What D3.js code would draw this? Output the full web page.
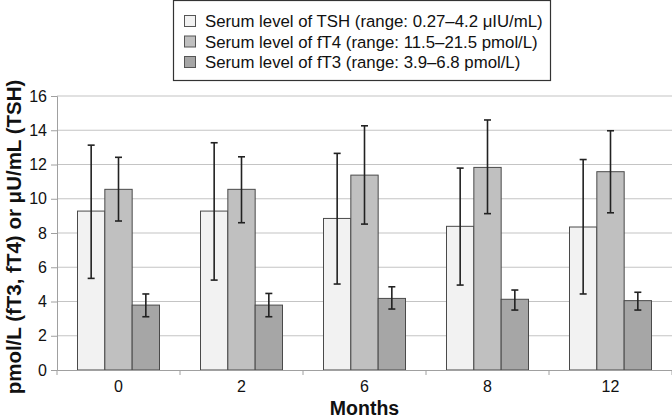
<!DOCTYPE html>
<html><head><meta charset="utf-8">
<script src="https://cdn.jsdelivr.net/npm/d3@7"></script>
<style>body{margin:0;background:#fff}svg{display:block;font-family:"Liberation Sans",Arial,sans-serif}</style>
</head><body><svg id="c" width="672" height="420"></svg>
<script>
const months = ["0","2","6","8","12"];
const seriesNames = ["Serum level of TSH (range: 0.27\u20134.2 \u03bcIU/mL)","Serum level of fT4 (range: 11.5\u201321.5 pmol/L)","Serum level of fT3 (range: 3.9\u20136.8 pmol/L)"];
const tshMean = [9.28, 9.28, 8.85, 8.39, 8.35];
const tshLow  = [5.35, 5.25, 5.02, 4.96, 4.44];
const tshHigh = [13.13, 13.27, 12.65, 11.79, 12.29];
const ft4Mean = [10.55, 10.55, 11.38, 11.83, 11.58];
const ft4Low  = [8.70, 8.60, 8.52, 9.13, 9.18];
const ft4High = [12.42, 12.45, 14.26, 14.60, 13.97];
const ft3Mean = [3.79, 3.79, 4.18, 4.13, 4.05];
const ft3Low  = [3.11, 3.11, 3.56, 3.50, 3.50];
const ft3High = [4.44, 4.47, 4.86, 4.67, 4.54];
const yTicks = [0,2,4,6,8,10,12,14,16];
const colors = ["#f2f2f2","#c0c0c0","#a6a6a6"];

const series = [
  {mean: tshMean, low: tshLow, high: tshHigh},
  {mean: ft4Mean, low: ft4Low, high: ft4High},
  {mean: ft3Mean, low: ft3Low, high: ft3High}
];

const svg = d3.select("#c");
const m = {l:57, r:672, t:96, b:370};
const x = d3.scaleBand().domain(months).range([m.l, m.r]).paddingInner(0).paddingOuter(0);
const x1 = d3.scaleBand().domain([0,1,2]).range([0, x.bandwidth()]).paddingOuter(0.75).paddingInner(0);
const y = d3.scaleLinear().domain([0,16]).range([m.b, m.t]);

// gridlines
svg.append("g").selectAll("line").data(yTicks.filter(d=>d>0)).join("line")
  .attr("x1", m.l).attr("x2", m.r).attr("y1", d=>y(d)).attr("y2", d=>y(d))
  .attr("stroke", "#c4c4c4").attr("stroke-width", 1.2);

// y axis
const ya = svg.append("g").attr("transform", `translate(${m.l},0)`)
  .call(d3.axisLeft(y).tickValues(yTicks).tickSize(6).tickPadding(4));
ya.select(".domain").attr("stroke", "#a0a0a0");
ya.selectAll(".tick line").attr("stroke", "#a0a0a0");
ya.selectAll("text").attr("font-size", 16).attr("fill", "#111").attr("font-family", "Liberation Sans, Arial, sans-serif");

// bars
const groups = svg.append("g").selectAll("g").data(months).join("g")
  .attr("transform", d => `translate(${x(d)},0)`);
series.forEach((s, si) => {
  groups.append("rect")
    .attr("x", x1(si)).attr("width", x1.bandwidth())
    .attr("y", (d,i) => y(s.mean[i])).attr("height", (d,i) => y(0) - y(s.mean[i]))
    .attr("fill", colors[si]).attr("stroke", "#4a4a4a").attr("stroke-width", 1);
});
// error bars
series.forEach((s, si) => {
  const cx = x1(si) + x1.bandwidth()/2;
  groups.append("line").attr("x1", cx).attr("x2", cx)
    .attr("y1", (d,i)=>y(s.low[i])).attr("y2", (d,i)=>y(s.high[i]))
    .attr("stroke", "#222").attr("stroke-width", 1.6);
  ["low","high"].forEach(k => {
    groups.append("line").attr("x1", cx-3.5).attr("x2", cx+3.5)
      .attr("y1", (d,i)=>y(s[k][i])).attr("y2", (d,i)=>y(s[k][i]))
      .attr("stroke", "#222").attr("stroke-width", 1.6);
  });
});

// x axis
const xa = svg.append("g").attr("transform", `translate(0,${m.b})`)
  .call(d3.axisBottom(x).tickSize(0).tickPadding(11));
xa.select(".domain").attr("stroke", "#a0a0a0");
xa.selectAll("text").attr("font-size", 16).attr("fill", "#111").attr("font-family", "Liberation Sans, Arial, sans-serif");
svg.append("g").selectAll("line").data(d3.range(months.length+1)).join("line")
  .attr("x1", i => m.l + i*x.step()).attr("x2", i => m.l + i*x.step())
  .attr("y1", m.b).attr("y2", m.b+5).attr("stroke", "#a0a0a0");

// axis titles
svg.append("text").attr("x", (m.l+m.r)/2).attr("y", 415).attr("text-anchor","middle")
  .attr("font-size", 19.5).attr("font-weight","bold").attr("fill","#111").text("Months");
svg.append("text").attr("transform", `translate(21,237) rotate(-90)`).attr("text-anchor","middle")
  .attr("font-size", 20.5).attr("font-weight","bold").attr("fill","#111").text("pmol/L (fT3, fT4) or \u03bcU/mL (TSH)");

// legend
const lg = svg.append("g");
lg.append("rect").attr("x", 173.5).attr("y", 0.5).attr("width", 377).attr("height", 80)
  .attr("fill", "#fff").attr("stroke", "#333").attr("stroke-width", 1.2);
seriesNames.forEach((n, i) => {
  const cy = 21 + i*20.5;
  lg.append("rect").attr("x", 184.5).attr("y", cy-5.5).attr("width", 11).attr("height", 11)
    .attr("fill", colors[i]).attr("stroke", "#555");
  lg.append("text").attr("x", 205).attr("y", cy+6).attr("font-size", 16.8).attr("fill","#111").text(n);
});
</script></body></html>
